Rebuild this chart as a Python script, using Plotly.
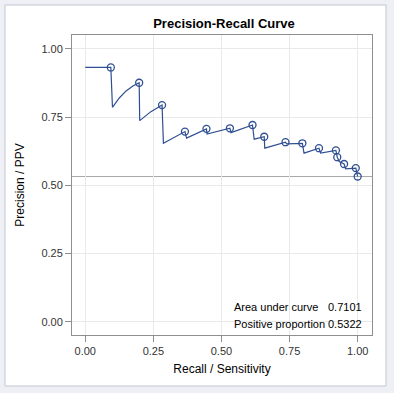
import plotly.graph_objects as go

# PR curve vertices (recall, precision)
curve_recall = [0.0, 0.094, 0.100, 0.125, 0.150, 0.175, 0.198, 0.200, 0.241, 0.282,
                0.287, 0.366, 0.372, 0.445, 0.447, 0.531, 0.535, 0.614, 0.620, 0.657,
                0.659, 0.735, 0.739, 0.797, 0.803, 0.858, 0.864, 0.920, 0.925, 0.932,
                0.950, 0.956, 0.993, 1.0]
curve_precision = [0.932, 0.932, 0.786, 0.820, 0.846, 0.864, 0.876, 0.737, 0.770, 0.794,
                   0.654, 0.697, 0.673, 0.707, 0.688, 0.709, 0.693, 0.721, 0.669, 0.678,
                   0.636, 0.658, 0.652, 0.654, 0.618, 0.636, 0.618, 0.628, 0.603, 0.587,
                   0.578, 0.560, 0.563, 0.5322]

# Marked operating points
point_recall = [0.094, 0.198, 0.282, 0.366, 0.445, 0.531, 0.614, 0.657, 0.735, 0.797,
                0.858, 0.920, 0.925, 0.950, 0.993, 1.0]
point_precision = [0.932, 0.876, 0.794, 0.697, 0.707, 0.709, 0.721, 0.678, 0.658, 0.654,
                   0.636, 0.628, 0.603, 0.578, 0.563, 0.5322]

positive_proportion = 0.5322
area_under_curve = 0.7101

tick_vals = [0.0, 0.25, 0.5, 0.75, 1.0]
tick_text = ["0.00", "0.25", "0.50", "0.75", "1.00"]

LINE = "#2f4f92"
FONT = "Liberation Sans, Arial, sans-serif"

fig = go.Figure()
fig.add_trace(go.Scatter(x=curve_recall, y=curve_precision, mode="lines",
                         line=dict(color=LINE, width=1.2), hoverinfo="skip",
                         showlegend=False))
fig.add_trace(go.Scatter(x=point_recall, y=point_precision, mode="markers",
                         marker=dict(symbol="circle-open", size=7,
                                     line=dict(color=LINE, width=1.3), color=LINE),
                         showlegend=False))

# outer border
fig.add_shape(type="rect", xref="paper", yref="paper",
              x0=(5 - 72) / 300, x1=(386 - 72) / 300,
              y0=(335 - 386) / 300, y1=(335 - 5) / 300,
              line=dict(color="#c3c6d0", width=1), fillcolor="white", layer="below")

# reference line at positive proportion
fig.add_shape(type="line", xref="paper", yref="y", x0=0, x1=1,
              y0=positive_proportion, y1=positive_proportion,
              line=dict(color="#a8a8a8", width=1), layer="below")

# inset background
fig.add_shape(type="rect", xref="paper", yref="paper",
              x0=(226 - 72) / 300, x1=1, y0=0, y1=(335 - 297) / 300,
              line=dict(width=0), fillcolor="white", layer="below")

rows = [("Area under curve", f"{area_under_curve:.4f}"),
        ("Positive proportion", f"{positive_proportion:.4f}")]
row_y = [(335 - 307) / 300, (335 - 324) / 300]
for (lab, val), yy in zip(rows, row_y):
    fig.add_annotation(x=(232 - 72) / 300, y=yy, xref="paper", yref="paper",
                       text=lab, showarrow=False, xanchor="left", yanchor="middle",
                       font=dict(family=FONT, size=11, color="#000000"))
    fig.add_annotation(x=(364 - 72) / 300, y=yy, xref="paper", yref="paper",
                       text=val, showarrow=False, xanchor="right", yanchor="middle",
                       font=dict(family=FONT, size=11, color="#000000"))

axis_common = dict(range=[-0.0485, 1.0525], tickvals=tick_vals, ticktext=tick_text,
                   showgrid=True, gridcolor="#e9e9e9", gridwidth=1, zeroline=False,
                   showline=True, linecolor="#8f8f8f", linewidth=1, mirror=True,
                   ticks="outside", ticklen=6, tickcolor="#8f8f8f",
                   tickfont=dict(family=FONT, size=11, color="#333333"))

fig.update_layout(
    width=394, height=393,
    margin=dict(l=72, r=22, t=35, b=58),
    paper_bgcolor="#eef0f5", plot_bgcolor="white",
    title=dict(text="<b>Precision-Recall Curve</b>", x=(224 - 0) / 394, xanchor="center",
               y=1 - 23 / 393, yanchor="middle",
               font=dict(family=FONT, size=13, color="#000000")),
    xaxis=dict(**axis_common,
               title=dict(text="Recall / Sensitivity", standoff=8,
                          font=dict(family=FONT, size=12, color="#000000"))),
    yaxis=dict(**{**axis_common, "range": [-0.0488, 1.051]},
               title=dict(text="Precision / PPV", standoff=14,
                          font=dict(family=FONT, size=12, color="#000000"))),
)

fig.write_html("out.html", config={"displayModeBar": False},
               post_script="document.body.style.margin='0';document.body.style.overflow='hidden';")
